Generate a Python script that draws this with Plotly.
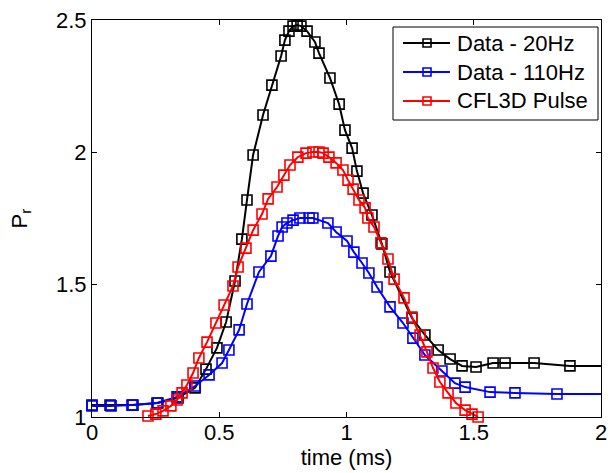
import plotly.graph_objects as go

# ---- data (time in ms, P_r) ----
t_20hz = [0.000, 0.071, 0.161, 0.259, 0.338, 0.405, 0.448, 0.491, 0.527, 0.562,
          0.589, 0.609, 0.633, 0.672, 0.707, 0.743, 0.758, 0.774, 0.790, 0.806,
          0.821, 0.845, 0.876, 0.892, 0.935, 0.971, 0.994, 1.022, 1.041, 1.065,
          1.100, 1.139, 1.171, 1.257, 1.308, 1.360, 1.407, 1.454, 1.509, 1.576,
          1.623, 1.737, 1.878, 2.100]
p_20hz = [1.045, 1.045, 1.045, 1.053, 1.072, 1.110, 1.181, 1.261, 1.359, 1.514,
          1.672, 1.820, 1.990, 2.141, 2.254, 2.364, 2.424, 2.458, 2.477, 2.481,
          2.477, 2.458, 2.417, 2.375, 2.281, 2.182, 2.084, 2.016, 1.929, 1.846,
          1.763, 1.654, 1.548, 1.374, 1.310, 1.253, 1.219, 1.193, 1.189, 1.204,
          1.204, 1.204, 1.193, 1.193]

t_110hz = [0.000, 0.075, 0.157, 0.255, 0.334, 0.405, 0.460, 0.511, 0.538, 0.578,
           0.609, 0.656, 0.703, 0.731, 0.747, 0.766, 0.790, 0.817, 0.853, 0.868,
           0.927, 0.959, 1.002, 1.029, 1.061, 1.088, 1.120, 1.171, 1.222, 1.261,
           1.308, 1.375, 1.426, 1.466, 1.564, 1.662, 1.827, 2.100]
p_110hz = [1.042, 1.042, 1.045, 1.053, 1.076, 1.117, 1.159, 1.204, 1.253, 1.329,
           1.427, 1.548, 1.608, 1.684, 1.718, 1.733, 1.744, 1.752, 1.752, 1.752,
           1.733, 1.699, 1.665, 1.623, 1.582, 1.544, 1.491, 1.416, 1.355, 1.298,
           1.234, 1.174, 1.128, 1.113, 1.094, 1.091, 1.087, 1.087]

t_cfl = [0.220, 0.251, 0.279, 0.310, 0.334, 0.354, 0.373, 0.397, 0.420, 0.452,
         0.487, 0.519, 0.554, 0.574, 0.605, 0.633, 0.668, 0.692, 0.727, 0.754,
         0.778, 0.809, 0.841, 0.868, 0.892, 0.908, 0.931, 0.959, 0.986, 1.006,
         1.026, 1.049, 1.073, 1.084, 1.108, 1.135, 1.163, 1.187, 1.226, 1.257,
         1.289, 1.316, 1.340, 1.367, 1.399, 1.430, 1.466, 1.493, 1.517]
p_cfl = [1.004, 1.011, 1.023, 1.042, 1.064, 1.091, 1.121, 1.166, 1.223, 1.283,
         1.355, 1.423, 1.495, 1.567, 1.638, 1.706, 1.767, 1.824, 1.869, 1.914,
         1.952, 1.982, 1.997, 2.001, 2.001, 1.997, 1.982, 1.960, 1.933, 1.895,
         1.861, 1.820, 1.790, 1.752, 1.718, 1.658, 1.597, 1.521, 1.450, 1.378,
         1.310, 1.246, 1.185, 1.132, 1.091, 1.053, 1.026, 1.011, 1.000]

series_names = ["Data - 20Hz", "Data - 110Hz", "CFL3D Pulse"]
series_colors = ["#000000", "#0000FF", "#FF0000"]
series_t = [t_20hz, t_110hz, t_cfl]
series_p = [p_20hz, p_110hz, p_cfl]

X_MAX = 2.0
FONT = "Liberation Sans, Arial, Helvetica, sans-serif"
FS = 22

W, H = 615, 473
ML, MR, MT, MB = 92, 14, 20, 56
PW, PH = W - ML - MR, H - MT - MB


def px_x(x):
    return (x - ML) / PW


def px_y(y):
    return (H - MB - y) / PH


fig = go.Figure()
for name, t, p, color in zip(series_names, series_t, series_p, series_colors):
    inside = [i for i, v in enumerate(t) if v <= X_MAX]
    last = inside[-1]
    if last < len(t) - 1:
        fig.add_trace(go.Scatter(
            x=t[last:], y=p[last:], mode="lines", showlegend=False,
            line=dict(color=color, width=2), hoverinfo="skip"))
    fig.add_trace(go.Scatter(
        x=[t[i] for i in inside], y=[p[i] for i in inside],
        mode="lines+markers", name=name, showlegend=False,
        line=dict(color=color, width=2),
        marker=dict(symbol="square-open", size=10, color=color,
                    line=dict(color=color, width=1.6)),
        cliponaxis=False))

# ---- legend box drawn in paper space ----
shapes = [dict(type="rect", xref="paper", yref="paper",
               x0=px_x(393), x1=px_x(598), y0=px_y(120), y1=px_y(27),
               line=dict(color="black", width=1), fillcolor="white", layer="above")]
annotations = []
row_y = [43, 72, 101]
for name, color, ry in zip(series_names, series_colors, row_y):
    shapes.append(dict(type="line", xref="paper", yref="paper",
                       x0=px_x(403), x1=px_x(450), y0=px_y(ry), y1=px_y(ry),
                       line=dict(color=color, width=2), layer="above"))
    shapes.append(dict(type="rect", xref="paper", yref="paper",
                       x0=px_x(423), x1=px_x(431), y0=px_y(ry + 4), y1=px_y(ry - 4),
                       line=dict(color=color, width=1.6), fillcolor="rgba(0,0,0,0)",
                       layer="above"))
    annotations.append(dict(text=name, xref="paper", yref="paper",
                            x=px_x(455), y=px_y(ry), xanchor="left", yanchor="middle",
                            showarrow=False,
                            font=dict(family=FONT, size=FS, color="black")))

axis_common = dict(
    showline=True, linecolor="black", linewidth=1, mirror="ticks",
    ticks="inside", ticklen=5, tickcolor="black", tickwidth=1,
    showgrid=False, zeroline=False, automargin=False,
    tickfont=dict(family=FONT, size=FS, color="black"),
)

fig.update_layout(
    width=W, height=H,
    margin=dict(l=ML, r=MR, t=MT, b=MB, autoexpand=False),
    paper_bgcolor="white", plot_bgcolor="white",
    font=dict(family=FONT, size=FS, color="black"),
    xaxis=dict(range=[0, 2], tickvals=[0, 0.5, 1, 1.5, 2],
               ticktext=["0", "0.5", "1", "1.5", "2"],
               ticklabelstandoff=-4,
               title=dict(text="time (ms)", font=dict(family=FONT, size=FS), standoff=4),
               **axis_common),
    yaxis=dict(range=[1, 2.5], tickvals=[1, 1.5, 2, 2.5],
               ticktext=["1", "1.5", "2", "2.5"],
               title=dict(text="P<sub>r</sub>", font=dict(family=FONT, size=FS), standoff=22),
               **axis_common),
    shapes=shapes,
    annotations=annotations,
    showlegend=False,
)

fig.write_html("out.html")
